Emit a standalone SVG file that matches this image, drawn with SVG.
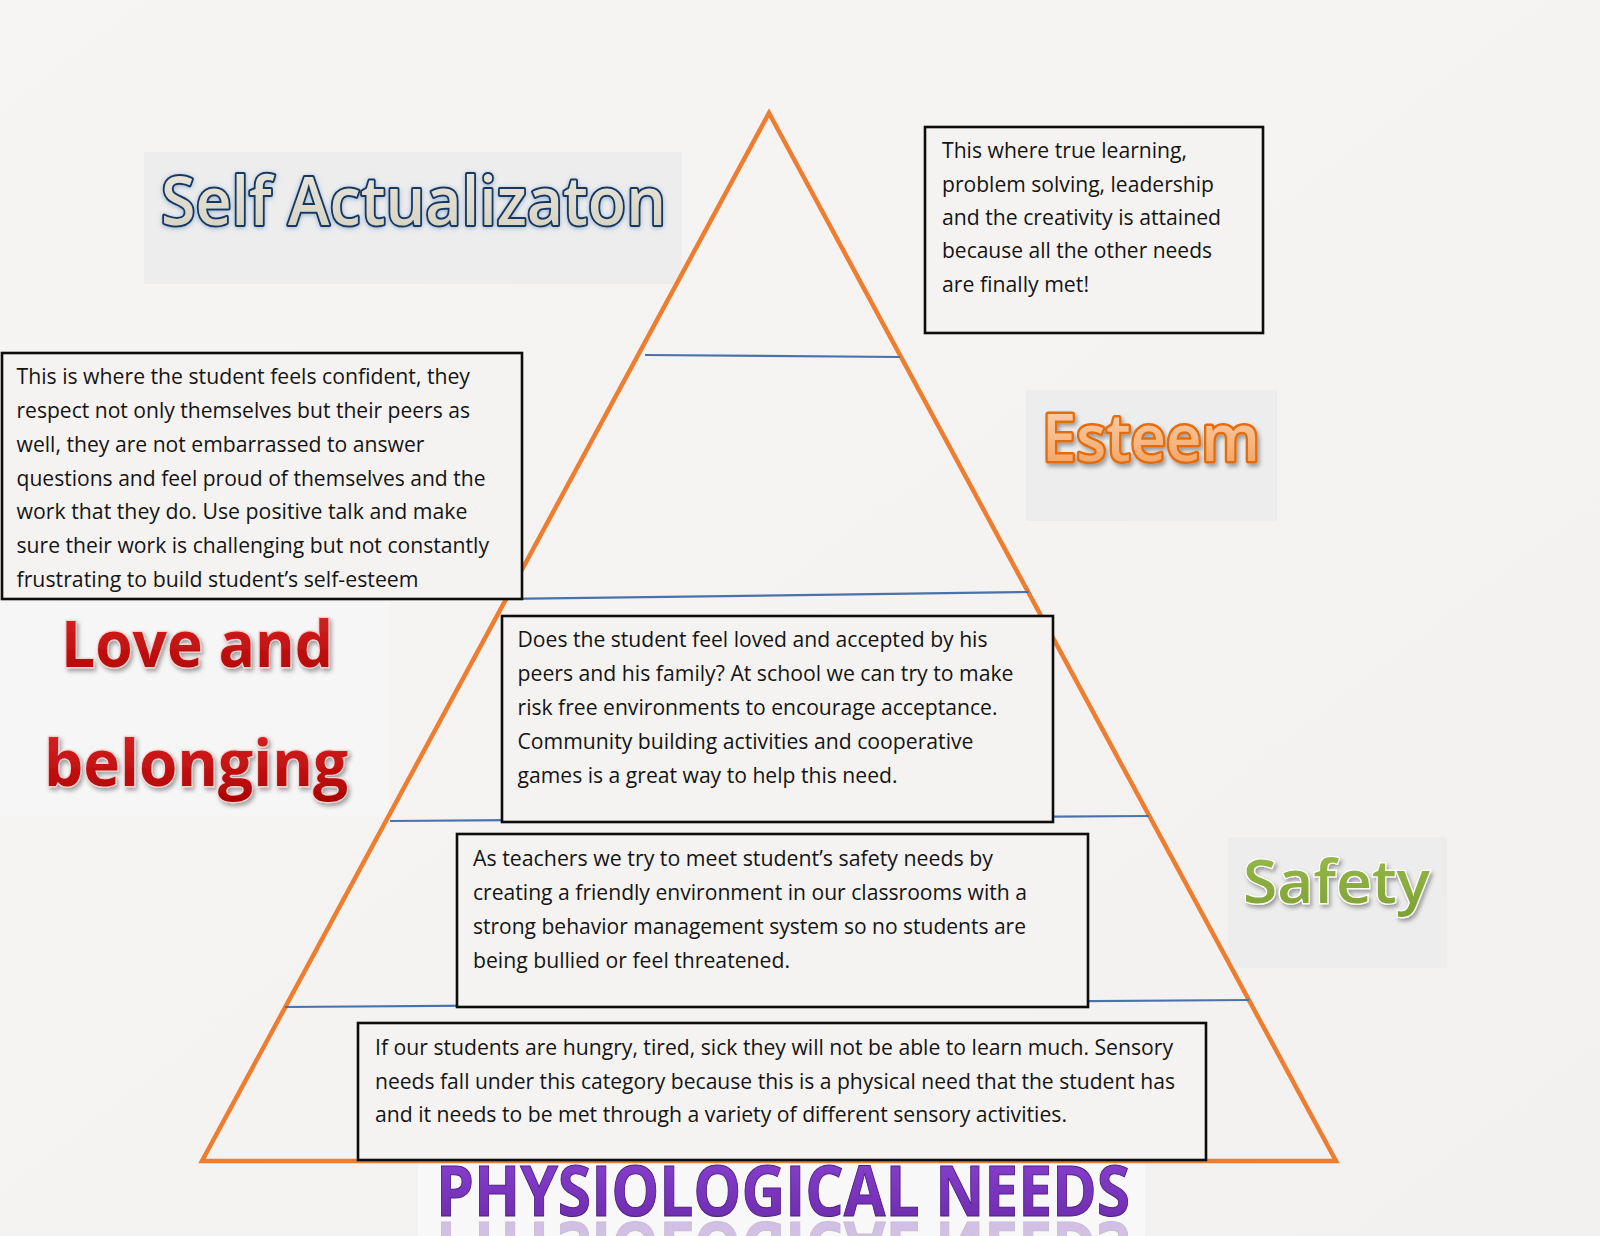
<svg xmlns="http://www.w3.org/2000/svg" xmlns:xlink="http://www.w3.org/1999/xlink" width="1600" height="1236" viewBox="0 0 1600 1236">
  <defs>
    <style>
      .body { font-family: "Open Sans", "Liberation Sans", sans-serif; font-size: 21px; fill: #141414; }
      .box { fill: #f4f3f2; stroke: #0d0d0d; stroke-width: 2.6; }
      .lbl-bg { fill: #ededed; }
      .tier { stroke: #4a72aa; stroke-width: 2.2; fill: none; }
      .pyr { fill: none; stroke: #ee7d30; stroke-width: 4.5; stroke-linejoin: miter; }
      .title { font-family: "Open Sans", "Liberation Sans", sans-serif; }
    </style>
    <linearGradient id="gSelf" x1="0" y1="0" x2="0" y2="1">
      <stop offset="0" stop-color="#edebe2"/>
      <stop offset="1" stop-color="#d3cfbd"/>
    </linearGradient>
    <linearGradient id="gEsteem" x1="0" y1="0" x2="0" y2="1">
      <stop offset="0" stop-color="#fcdcc0"/>
      <stop offset="1" stop-color="#f29b55"/>
    </linearGradient>
    <linearGradient id="gLove" x1="0" y1="0" x2="0" y2="1">
      <stop offset="0" stop-color="#e42a2a"/>
      <stop offset="1" stop-color="#a80000"/>
    </linearGradient>
    <linearGradient id="gSafety" x1="0" y1="0" x2="0" y2="1">
      <stop offset="0" stop-color="#9cbd4c"/>
      <stop offset="1" stop-color="#7d9f33"/>
    </linearGradient>
    <linearGradient id="gPhys" x1="0" y1="0" x2="0" y2="1">
      <stop offset="0" stop-color="#8c44d6"/>
      <stop offset="1" stop-color="#6a28a6"/>
    </linearGradient>
    <linearGradient id="gBg" x1="0" y1="0" x2="1" y2="1">
      <stop offset="0" stop-color="#f6f5f4"/>
      <stop offset="0.5" stop-color="#f4f3f2"/>
      <stop offset="1" stop-color="#f2f1f0"/>
    </linearGradient>
    <filter id="shadow" x="-10%" y="-20%" width="130%" height="150%">
      <feDropShadow dx="2" dy="3" stdDeviation="2" flood-color="#000" flood-opacity="0.35"/>
    </filter>
    <filter id="glow" x="-10%" y="-30%" width="120%" height="160%">
      <feDropShadow dx="0" dy="1" stdDeviation="2.5" flood-color="#4f81bd" flood-opacity="0.55"/>
    </filter>
  </defs>

  <rect x="0" y="0" width="1600" height="1236" fill="url(#gBg)"/>

  <!-- label backgrounds -->
  <rect class="lbl-bg" x="144" y="152" width="538" height="132"/>
  <rect class="lbl-bg" x="1026" y="390" width="251" height="131"/>
  <rect class="lbl-bg" x="1228" y="837" width="219" height="131"/>
  <rect x="0" y="602" width="390" height="214" fill="#f6f6f6"/>
  <rect x="418" y="1163" width="727" height="73" fill="#f8f8f8"/>

  <!-- pyramid and tier lines -->
  <g id="connectors">
    <polygon class="pyr" points="769,113 1336,1161 202,1161"/>
    <line class="tier" x1="645" y1="355" x2="900" y2="357"/>
    <line class="tier" x1="506" y1="599" x2="1029" y2="592"/>
    <line class="tier" x1="390" y1="821" x2="1149" y2="816"/>
    <line class="tier" x1="285" y1="1007" x2="1249" y2="1000"/>
  </g>

  <!-- Self Actualization label -->
  <g id="label-self">
    <text class="title" x="161" y="225" font-size="67" font-weight="600" textLength="505" lengthAdjust="spacingAndGlyphs" fill="url(#gSelf)" stroke="#17375e" stroke-width="4" paint-order="stroke" stroke-linejoin="round" filter="url(#glow)">Self Actualizaton</text>
  </g>

  <!-- Top-right box -->
  <g id="box-self">
    <rect class="box" x="925" y="127" width="338" height="206"/>
    <text class="body" x="942" y="158" textLength="245" lengthAdjust="spacingAndGlyphs">This where true learning,</text>
    <text class="body" x="942" y="192" textLength="272" lengthAdjust="spacingAndGlyphs">problem solving, leadership</text>
    <text class="body" x="942" y="225" textLength="279" lengthAdjust="spacingAndGlyphs">and the creativity is attained</text>
    <text class="body" x="942" y="258" textLength="270" lengthAdjust="spacingAndGlyphs">because all the other needs</text>
    <text class="body" x="942" y="292" textLength="147" lengthAdjust="spacingAndGlyphs">are finally met!</text>
  </g>

  <!-- Esteem label -->
  <g id="label-esteem">
    <text class="title" x="1042" y="461" font-size="66" font-weight="600" textLength="218" lengthAdjust="spacingAndGlyphs" fill="url(#gEsteem)" stroke="#e36c0a" stroke-width="5" paint-order="stroke" stroke-linejoin="round" filter="url(#shadow)">Esteem</text>
  </g>

  <!-- Esteem box -->
  <g id="box-esteem">
    <rect class="box" x="2" y="353" width="520" height="246"/>
    <text class="body" x="16.5" y="384" textLength="453.5" lengthAdjust="spacingAndGlyphs">This is where the student feels confident, they</text>
    <text class="body" x="16.5" y="418" textLength="453.5" lengthAdjust="spacingAndGlyphs">respect not only themselves but their peers as</text>
    <text class="body" x="16.5" y="452" textLength="408" lengthAdjust="spacingAndGlyphs">well, they are not embarrassed to answer</text>
    <text class="body" x="16.5" y="486" textLength="469" lengthAdjust="spacingAndGlyphs">questions and feel proud of themselves and the</text>
    <text class="body" x="16.5" y="519" textLength="451" lengthAdjust="spacingAndGlyphs">work that they do. Use positive talk and make</text>
    <text class="body" x="16.5" y="553" textLength="472.5" lengthAdjust="spacingAndGlyphs">sure their work is challenging but not constantly</text>
    <text class="body" x="16.5" y="587" textLength="402" lengthAdjust="spacingAndGlyphs">frustrating to build student’s self-esteem</text>
  </g>

  <!-- Love and belonging label -->
  <g id="label-love">
    <text class="title" x="61" y="667" font-size="65" font-weight="bold" textLength="272" lengthAdjust="spacingAndGlyphs" fill="url(#gLove)" stroke="#f6cfcf" stroke-width="2.4" paint-order="stroke" filter="url(#shadow)">Love and</text>
    <text class="title" x="44" y="786" font-size="65" font-weight="bold" textLength="304" lengthAdjust="spacingAndGlyphs" fill="url(#gLove)" stroke="#f6cfcf" stroke-width="2.4" paint-order="stroke" filter="url(#shadow)">belonging</text>
  </g>

  <!-- Love box -->
  <g id="box-love">
    <rect class="box" x="502" y="616" width="551" height="206"/>
    <text class="body" x="517.5" y="647" textLength="470" lengthAdjust="spacingAndGlyphs">Does the student feel loved and accepted by his</text>
    <text class="body" x="517.5" y="681" textLength="496" lengthAdjust="spacingAndGlyphs">peers and his family? At school we can try to make</text>
    <text class="body" x="517.5" y="715" textLength="480" lengthAdjust="spacingAndGlyphs">risk free environments to encourage acceptance.</text>
    <text class="body" x="517.5" y="749" textLength="456" lengthAdjust="spacingAndGlyphs">Community building activities and cooperative</text>
    <text class="body" x="517.5" y="783" textLength="380" lengthAdjust="spacingAndGlyphs">games is a great way to help this need.</text>
  </g>

  <!-- Safety label -->
  <g id="label-safety">
    <text class="title" x="1243" y="903" font-size="59" font-weight="600" textLength="187" lengthAdjust="spacingAndGlyphs" fill="url(#gSafety)" stroke="#ffffff" stroke-width="2.4" paint-order="stroke" filter="url(#shadow)">Safety</text>
  </g>

  <!-- Safety box -->
  <g id="box-safety">
    <rect class="box" x="457" y="834" width="631" height="173"/>
    <text class="body" x="473" y="866" textLength="520" lengthAdjust="spacingAndGlyphs">As teachers we try to meet student’s safety needs by</text>
    <text class="body" x="473" y="900" textLength="554" lengthAdjust="spacingAndGlyphs">creating a friendly environment in our classrooms with a</text>
    <text class="body" x="473" y="934" textLength="553" lengthAdjust="spacingAndGlyphs">strong behavior management system so no students are</text>
    <text class="body" x="473" y="968" textLength="317" lengthAdjust="spacingAndGlyphs">being bullied or feel threatened.</text>
  </g>

  <!-- Physiological box -->
  <g id="box-physio">
    <rect class="box" x="358" y="1023" width="848" height="137"/>
    <text class="body" x="375" y="1055" textLength="798" lengthAdjust="spacingAndGlyphs">If our students are hungry, tired, sick they will not be able to learn much. Sensory</text>
    <text class="body" x="375" y="1089" textLength="800" lengthAdjust="spacingAndGlyphs">needs fall under this category because this is a physical need that the student has</text>
    <text class="body" x="375" y="1122" textLength="692" lengthAdjust="spacingAndGlyphs">and it needs to be met through a variety of different sensory activities.</text>
  </g>

  <!-- Physiological needs label -->
  <g id="label-physio">
    <text id="physText" class="title" x="436" y="1216" font-size="70" font-weight="bold" textLength="694" lengthAdjust="spacingAndGlyphs" fill="url(#gPhys)" stroke="#4e1d80" stroke-width="1">PHYSIOLOGICAL NEEDS</text>
    <use xlink:href="#physText" transform="translate(0,2438) scale(1,-1)" opacity="0.28"/>
  </g>
</svg>
